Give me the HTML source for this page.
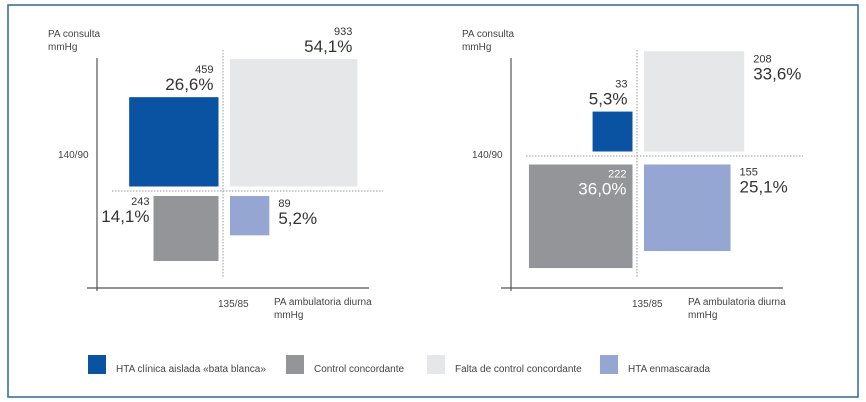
<!DOCTYPE html>
<html><head><meta charset="utf-8">
<style>
html,body{margin:0;padding:0;background:#fff;}
svg{display:block;font-family:"Liberation Sans",sans-serif;}
</style></head>
<body>
<svg id="c" width="866" height="402" viewBox="0 0 866 402">
<rect x="8" y="5" width="850" height="392" fill="#fff" stroke="#2c6a94" stroke-width="1.5"/>
<g id="charts"></g>
<g id="legend"></g>
</svg>
<script>
const categories = ["HTA clínica aislada «bata blanca»","Control concordante","Falta de control concordante","HTA enmascarada"];
const colors = ["#0a52a2","#939598","#e6e7e8","#94a6d1"];
const leftCounts = [459, 243, 933, 89];
const leftPcts = ["26,6%","14,1%","54,1%","5,2%"];
const rightCounts = [33, 222, 208, 155];
const rightPcts = ["5,3%","36,0%","33,6%","25,1%"];

const NS="http://www.w3.org/2000/svg";
function el(tag, attrs, parent, text){
  const e=document.createElementNS(NS,tag);
  for(const k in attrs) e.setAttribute(k,attrs[k]);
  if(text!==undefined) e.textContent=text;
  parent.appendChild(e); return e;
}
const root=document.getElementById('charts');

function chart(cfg, counts, pcts, name){
  const g=el('g',{},root);
  
  
  const ya=el('line',{x1:cfg.ax,y1:58,x2:cfg.ax,y2:cfg.ay+3,stroke:'#555','stroke-width':1.2},g);
  
  
  const xa=el('line',{x1:cfg.ax-10,y1:cfg.ay,x2:cfg.axEnd,y2:cfg.ay,stroke:'#555','stroke-width':1.2},g);
  
  
  const vd=el('line',{x1:cfg.dx,y1:50,x2:cfg.dx,y2:278,stroke:'#999','stroke-dasharray':'1.5,1.5'},g);
  
  
  const hd=el('line',{x1:cfg.hx1,y1:cfg.dy,x2:cfg.hx2,y2:cfg.dy,stroke:'#999','stroke-dasharray':'1.5,1.5'},g);
  
  
  const t1=el('text',{x:cfg.ax-49,y:37,'font-size':10,fill:'#444'},g,'PA consulta');
  
  
  el('text',{x:cfg.ax-49,y:50,'font-size':10,fill:'#444'},g,'mmHg');
  const t2=el('text',{x:cfg.ax-39,y:158,'font-size':10,fill:'#444'},g,'140/90');
  
  
  const t3=el('text',{x:cfg.dx-5,y:307,'font-size':10,fill:'#444'},g,'135/85');
  
  
  const t4=el('text',{x:cfg.dx+51,y:305,'font-size':10,fill:'#444'},g,'PA ambulatoria diurna');
  
  
  el('text',{x:cfg.dx+51,y:318,'font-size':10,fill:'#444'},g,'mmHg');
  // quadrants: 0 top-left,1 bottom-left,2 top-right,3 bottom-right
  for(let i=0;i<4;i++){
    const s=cfg.k*Math.sqrt(counts[i]);
    const left = (i<2);
    const top = (i%2===0);
    const x = left ? cfg.dx - cfg.gap - s : cfg.dx + cfg.gapR;
    const y = top ? cfg.dy - cfg.gap - s : cfg.dy + cfg.gapB;
    const r=el('rect',{x:x,y:y,width:s,height:s,fill:colors[i]},g);
    
    
    const L=cfg.labels[i];
    let lx, anchor=L.anchor, ly;
    if(L.pos==='above'){lx=x+s-5; ly=y-24;}
    else if(L.pos==='leftof'){lx=x-4; ly=y+9;}
    else if(L.pos==='rightof'){lx=x+s+9; ly=y+11;}
    else if(L.pos==='inside'){lx=x+s-6; ly=y+13;}
    const col=L.white?'#fff':'#333';
    const n=el('text',{x:lx,y:ly,'font-size':11,fill:col,'text-anchor':anchor},g,String(counts[i]));
    
    
    const p=el('text',{x:lx,y:ly+17,'font-size':17,fill:col,'text-anchor':anchor},g,pcts[i]);
    
    
  }
}

chart({ax:97,ay:288,axEnd:369,dx:223,dy:191,hx1:112,hx2:383,k:4.17,gap:4.5,gapR:7,gapB:5,
  labels:[{pos:'above',anchor:'end'},{pos:'leftof',anchor:'end'},{pos:'above',anchor:'end'},{pos:'rightof',anchor:'start'}]},
  leftCounts,leftPcts,'left-chart');
chart({ax:511,ay:288,axEnd:783,dx:637,dy:156,hx1:526,hx2:803,k:6.95,gap:4.5,gapR:7,gapB:8.5,
  labels:[{pos:'above',anchor:'end'},{pos:'inside',anchor:'end',white:true},{pos:'rightof',anchor:'start'},{pos:'rightof',anchor:'start'}]},
  rightCounts,rightPcts,'right-chart');
// fix label positions for right top-right (208 is beside box near top)
const lg=document.getElementById('legend');
const lx=[88,286,427,600];
for(let i=0;i<4;i++){
  const s=el('rect',{x:lx[i],y:355,width:18,height:19,fill:colors[i]},lg);
  
  
  const t=el('text',{x:lx[i]+28,y:372,'font-size':10,fill:'#444'},lg,categories[i]);
  
  
}
</script>
</body></html>
